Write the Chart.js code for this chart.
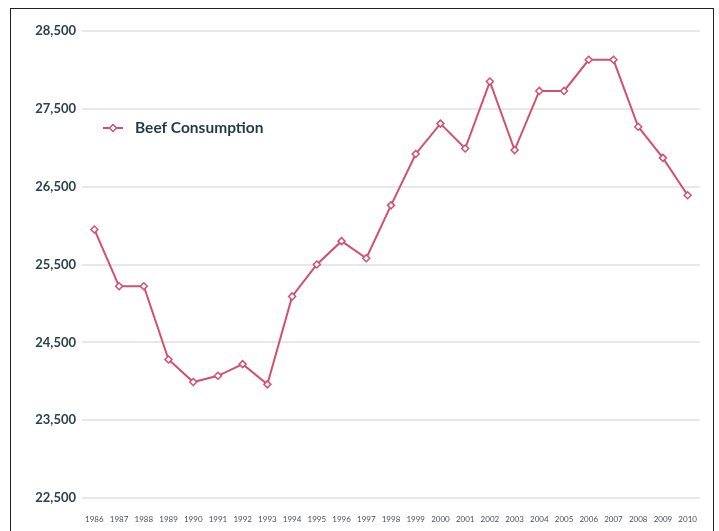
<!DOCTYPE html>
<html>
<head>
<meta charset="utf-8">
<script src="https://cdn.jsdelivr.net/npm/chart.js@4"></script>
<style>
    body { margin: 0; background: #fff; }
    .frame { position: absolute; left: 10px; top: 8px; width: 702px; height: 560px; border: 1.5px solid #222; }
    #wrap { position: absolute; left: 0; top: 0; width: 719px; height: 531px; }
</style>
</head>
<body>
<div class="frame"></div>
<div id="wrap"><canvas id="beefChart" width="719" height="531"></canvas></div>
<script>
const years = ['1986', '1987', '1988', '1989', '1990', '1991', '1992', '1993', '1994', '1995', '1996', '1997',
    '1998', '1999', '2000', '2001', '2002', '2003', '2004', '2005', '2006', '2007', '2008', '2009', '2010'];
const beefConsumption = [25950, 25220, 25220, 24280, 23990, 24070, 24220, 23960, 25090, 25500, 25800, 25580,
    26260, 26920, 27310, 26990, 27850, 26970, 27730, 27730, 28130, 28130, 27270, 26870, 26390];
const yTicks = [22500, 23500, 24500, 25500, 26500, 27500, 28500];

const lineColor = '#d24f74';

// legend drawn inside the plot, top-left
const insideLegend = {
    id: 'insideLegend',
    afterDraw(chart) {
        const ctx = chart.ctx;
        const a = chart.chartArea;
        const x = a.left + 21, y = a.top + 97;
        ctx.save();
        ctx.strokeStyle = lineColor;
        ctx.lineWidth = 2;
        ctx.beginPath();
        ctx.moveTo(x, y);
        ctx.lineTo(x + 20, y);
        ctx.stroke();
        ctx.fillStyle = '#fff';
        ctx.lineWidth = 1.5;
        ctx.beginPath();
        ctx.moveTo(x + 10, y - 3.5);
        ctx.lineTo(x + 13.5, y);
        ctx.lineTo(x + 10, y + 3.5);
        ctx.lineTo(x + 6.5, y);
        ctx.closePath();
        ctx.fill();
        ctx.stroke();
        ctx.fillStyle = '#1f3b4a';
        ctx.font = 'bold 15.5px Lato';
        ctx.textBaseline = 'middle';
        ctx.fillText('Beef Consumption', x + 32, y);
        ctx.restore();
    }
};

const ctx = document.getElementById('beefChart').getContext('2d');
new Chart(ctx, {
    type: 'line',
    data: {
        labels: years,
        datasets: [{
            label: 'Beef Consumption',
            data: beefConsumption,
            borderColor: lineColor,
            borderWidth: 2,
            pointStyle: 'rectRot',
            pointRadius: 3.5,
            pointBorderWidth: 1.5,
            pointBackgroundColor: '#fff',
            pointBorderColor: lineColor,
            tension: 0
        }]
    },
    options: {
        responsive: false,
        animation: false,
        layout: { padding: { top: 31, right: 19, left: 0, bottom: 0 } },
        plugins: { legend: { display: false }, tooltip: { enabled: false } },
        scales: {
            y: {
                min: 22500,
                max: 28500,
                afterFit(scale) { scale.width = 82; },
                afterBuildTicks(scale) { scale.ticks = yTicks.map(v => ({ value: v })); },
                grid: { color: '#e8e8e8', lineWidth: 2, drawTicks: false },
                border: { display: false },
                ticks: {
                    padding: 6,
                    color: '#2c4050',
                    font: { family: 'Lato', size: 13, weight: 'bold' },
                    callback: v => v.toLocaleString('en-US')
                }
            },
            x: {
                offset: true,
                afterFit(scale) { scale.height = 33; },
                grid: { display: false },
                border: { display: false },
                ticks: {
                    autoSkip: false,
                    maxRotation: 0,
                    padding: 9,
                    color: '#4a4f55',
                    font: { family: 'Lato', size: 8 }
                }
            }
        }
    },
    plugins: [insideLegend]
});
</script>
</body>
</html>
